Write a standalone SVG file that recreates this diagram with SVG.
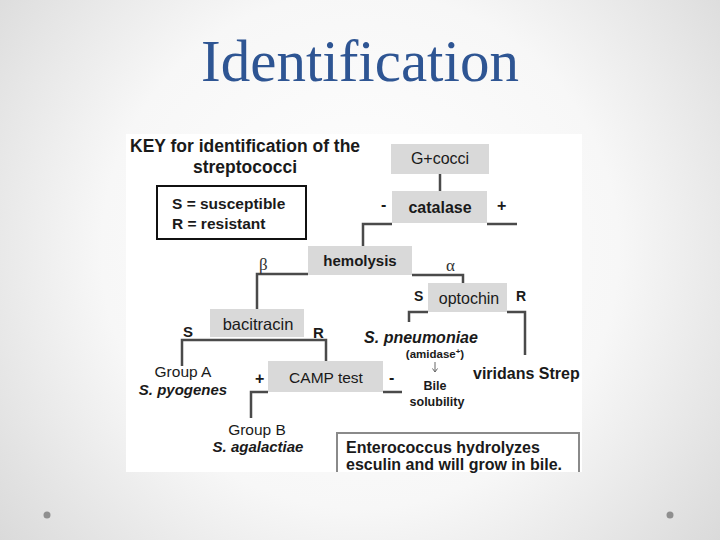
<svg xmlns="http://www.w3.org/2000/svg" width="720" height="540" viewBox="0 0 720 540">
<defs>
<radialGradient id="bg" gradientUnits="userSpaceOnUse" cx="360" cy="250" r="470">
<stop offset="0" stop-color="#ffffff"/>
<stop offset="0.55" stop-color="#f7f7f7"/>
<stop offset="1" stop-color="#d9d9d9"/>
</radialGradient>
</defs>
<style>
.t{font-family:"Liberation Sans",Arial,sans-serif;fill:#1a1a1a}
.b{font-weight:bold}
.bi{font-weight:bold;font-style:italic}
.m{text-anchor:middle}
.box{fill:#d9d9d9}
.ln{fill:none;stroke:#4a4a4a;stroke-width:2.5}
.thin{fill:none;stroke:#666;stroke-width:1}
.gr{font-family:"Liberation Serif","Times New Roman",serif;fill:#333;font-size:17px}
</style>
<rect x="0" y="0" width="720" height="540" fill="url(#bg)"/>
<text x="360" y="81" text-anchor="middle" font-family="'Liberation Serif','Times New Roman',serif" font-size="59" fill="#2e5593">Identification</text>
<circle cx="47" cy="515" r="3.5" fill="#8f8f8f"/>
<circle cx="670" cy="515" r="3.5" fill="#8f8f8f"/>
<rect x="126" y="134" width="456" height="338" fill="#ffffff"/>

<g id="key">
<text class="t b" x="130" y="152" font-size="17.5">KEY for identification of the</text>
<text class="t b m" x="245" y="173" font-size="17.5">streptococci</text>
<rect x="157" y="186" width="149" height="53" fill="none" stroke="#111" stroke-width="2"/>
<text class="t b" x="172" y="209" font-size="15.5">S = susceptible</text>
<text class="t b" x="172" y="229" font-size="15.5">R = resistant</text>
</g>

<g id="connectors">
<path class="ln" d="M440 174 V191"/>
<path class="ln" d="M392 224 H363 V246"/>
<path class="ln" d="M487 224 H517"/>
<path class="ln" d="M308 274 H257 V309"/>
<path class="ln" d="M412 275 H463 V283"/>
<path class="ln" d="M428 312 H409 V322"/>
<path class="ln" d="M507 312 H525 V355"/>
<path class="ln" d="M182 366 V340 H326 V361"/>
<path class="ln" d="M268 392 H251 V418"/>
<path class="ln" d="M383 392 H402"/>
<path class="thin" d="M435 362 V372 M432.5 368.5 L435 372 L437.5 368.5"/>
<text class="t b" x="381" y="210" font-size="16">-</text>
<text class="t b" x="497" y="211" font-size="16">+</text>
<text class="gr" x="259" y="270">β</text>
<text class="gr" x="446" y="271">α</text>
<text class="t b" x="414" y="301" font-size="14">S</text>
<text class="t b" x="516" y="301" font-size="14">R</text>
<text class="t b" x="183" y="337" font-size="15">S</text>
<text class="t b" x="313" y="338" font-size="15">R</text>
<text class="t b" x="255" y="384" font-size="16">+</text>
<text class="t b" x="389" y="383" font-size="16">-</text>
</g>

<g id="gcocci">
<rect class="box" x="391" y="144" width="98" height="30"/>
<text class="t m" x="440" y="164" font-size="16">G+cocci</text>
</g>
<g id="catalase">
<rect class="box" x="392" y="191" width="95" height="32"/>
<text class="t b m" x="440" y="213" font-size="16">catalase</text>
</g>
<g id="hemolysis">
<rect class="box" x="308" y="246" width="104" height="29"/>
<text class="t b m" x="360" y="266" font-size="15">hemolysis</text>
</g>
<g id="optochin">
<rect class="box" x="428" y="283" width="79" height="29"/>
<text class="t m" x="469" y="304" font-size="16">optochin</text>
</g>
<g id="bacitracin">
<rect class="box" x="210" y="309" width="94" height="28"/>
<text class="t m" x="258" y="330" font-size="16.5">bacitracin</text>
</g>
<g id="camp">
<rect class="box" x="268" y="361" width="115" height="31"/>
<text class="t m" x="326" y="383" font-size="15.5">CAMP test</text>
</g>
<g id="groupA">
<text class="t m" x="183" y="377" font-size="15.5">Group A</text>
<text class="t bi m" x="183" y="395" font-size="15">S. pyogenes</text>
</g>
<g id="groupB">
<text class="t m" x="257" y="435" font-size="15.5">Group B</text>
<text class="t bi m" x="258" y="452" font-size="15">S. agalactiae</text>
</g>
<g id="pneumoniae">
<text class="t bi m" x="421" y="343" font-size="16">S. pneumoniae</text>
<text class="t b m" x="435" y="358" font-size="11.5">(amidase<tspan font-size="8" dy="-4">+</tspan><tspan dy="4">)</tspan></text>
</g>
<g id="bile">
<text class="t b m" x="435" y="390" font-size="12.5">Bile</text>
<text class="t b m" x="437" y="406" font-size="12.5">solubility</text>
</g>
<g id="viridans">
<text class="t b" x="473" y="379" font-size="16">viridans Strep</text>
</g>
<g id="enterococcus">
<path d="M337 472 V433 H579 V472" fill="none" stroke="#8a8a8a" stroke-width="2"/>
<text class="t b" x="346" y="453" font-size="16">Enterococcus hydrolyzes</text>
<text class="t b" x="346" y="470" font-size="16">esculin and will grow in bile.</text>
</g>
</svg>
